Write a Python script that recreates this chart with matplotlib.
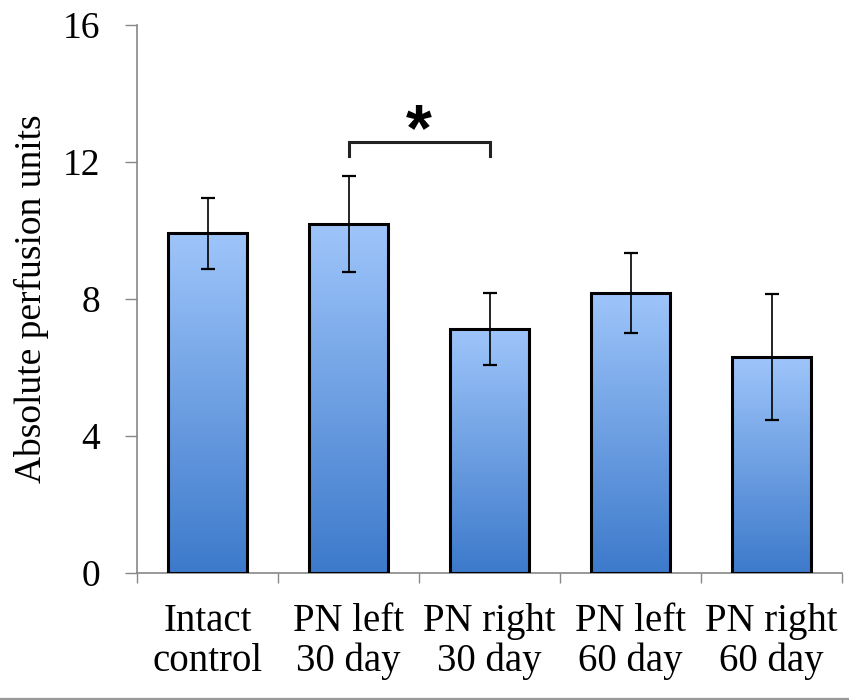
import numpy as np
import matplotlib
matplotlib.use("Agg")
import matplotlib.pyplot as plt
from matplotlib.colors import LinearSegmentedColormap
from matplotlib.lines import Line2D

categories = ["Intact\ncontrol", "PN left\n30 day", "PN right\n30 day", "PN left\n60 day", "PN right\n60 day"]
means = [9.90, 10.17, 7.11, 8.16, 6.30]
errors = [1.03, 1.41, 1.06, 1.17, 1.84]
ylabel = "Absolute perfusion units"
yticks = [0, 4, 8, 12, 16]

plt.rcParams['font.family'] = ['Liberation Serif', 'DejaVu Serif']

fig = plt.figure(figsize=(8.49, 7.0), dpi=100)
ax = fig.add_axes([0.1614, 0.1821, 0.8304, 0.7829])

x = np.arange(len(categories))
width = 0.56
cmap = LinearSegmentedColormap.from_list("bargrad", ["#3D7ACB", "#9EC5FA"])
grad = np.linspace(0, 1, 256).reshape(-1, 1)

bars = ax.bar(x, means, width=width, facecolor='none', edgecolor='black',
              linewidth=2.2, zorder=3)
for b in bars:
    x0 = b.get_x()
    w = b.get_width()
    h = b.get_height()
    im = ax.imshow(grad, cmap=cmap, origin='lower', aspect='auto',
                   extent=[x0, x0 + w, 0, h], zorder=2)
    im.set_clip_path(b)

ax.errorbar(x, means, yerr=errors, fmt='none', ecolor='black',
            elinewidth=1.2, capsize=5, capthick=1.6, zorder=4)

ax.set_xlim(-0.5, len(categories) - 0.5)
ax.set_ylim(0, 16)
ax.set_yticks(yticks)
ax.set_yticklabels([str(v) for v in yticks], fontsize=27)
ax.set_xticks(x)
ax.set_xticklabels(categories, fontsize=28, linespacing=1.1)
ax.set_xticks(np.arange(-0.5, len(categories)), minor=True)
ax.tick_params(axis='x', which='major', length=0, pad=22)
ax.tick_params(axis='x', which='minor', length=7.2, width=1.0, color='#888888', direction='out')
ax.tick_params(axis='y', which='major', length=8.6, width=1.0, color='#888888', direction='out', pad=18)
ax.set_ylabel(ylabel, fontsize=27, labelpad=10)

for s in ['top', 'right']:
    ax.spines[s].set_visible(False)
for s in ['left', 'bottom']:
    ax.spines[s].set_color('#888888')
    ax.spines[s].set_linewidth(1.2)

# significance bracket
yb = 12.56
ax.plot([1, 1, 2, 2], [12.16, yb, yb, 12.16], color='#222222', lw=2.2,
        solid_joinstyle='miter', zorder=5, clip_on=False)
ax.text(1.5, 12.32, "*", ha='center', va='baseline', fontsize=48,
        fontweight='bold', family='Liberation Sans')

# bottom border line of the picture
fig.add_artist(Line2D([0, 1], [0.0015, 0.0015], transform=fig.transFigure,
                      color='#999999', lw=1.6))

fig.savefig("out.png", dpi=100)
